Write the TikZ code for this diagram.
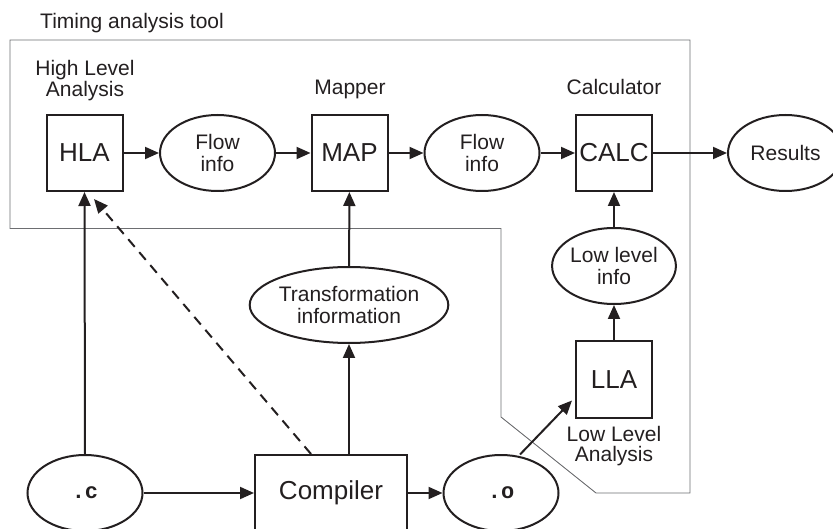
\documentclass[tikz,border=0pt]{standalone}
\usepackage{fontspec}
\setmainfont{Liberation Sans}
\setmonofont{Liberation Mono}
\usetikzlibrary{arrows.meta,shapes.geometric,calc}
\definecolor{ink}{HTML}{231F20}
\definecolor{frame}{HTML}{6D6E71}
\tikzset{
  every node/.style={inner sep=0pt, text=ink},
  unit/.style={draw=ink, line width=2pt, minimum width=76pt, minimum height=76pt,
    font=\fontsize{26}{28}\selectfont},
  data/.style={draw=ink, line width=2pt, ellipse, minimum width=115pt, minimum height=76pt,
    align=center, font=\fontsize{21}{22}\selectfont},
  file/.style={data, font=\fontsize{22}{22}\ttfamily\bfseries},
  caption/.style={align=center, font=\fontsize{21}{20.5}\selectfont},
  flow/.style={draw=ink, line width=2pt, -{Triangle[length=14pt,width=12pt]}},
  hint/.style={flow, dash pattern=on 10pt off 7pt},
  toolframe/.style={draw=frame, line width=0.9pt},
}
\begin{document}
\begin{tikzpicture}[x=1pt,y=-1pt]
\useasboundingbox (0,0) rectangle (833,529);
\clip (0,0) rectangle (833,529);

% outline of the timing analysis tool
\draw[toolframe] (10,40) -- (690,40) -- (690,493) -- (596,493) -- (501,417)
  -- (501,228.5) -- (10,228.5) -- cycle;
\node[caption, anchor=base west] at (40,29) {Timing analysis tool};

% analysis chain
\node[unit] (hla)  at (84.5,153) {HLA};
\node[data] (fi1)  at (217.5,153) {Flow\\info};
\node[unit] (map)  at (349.5,153) {MAP};
\node[data] (fi2)  at (482,153) {Flow\\info};
\node[unit] (calc) at (614,153) {CALC};
\node[data] (res)  at (785.5,153) {Results};

\node[caption, anchor=south] at (85,101) {High Level\\Analysis};
\node[caption, anchor=base] at (350,95) {Mapper};
\node[caption, anchor=base] at (614,95) {Calculator};

% low level path
\node[data] (lli) at (614,266) {Low level\\info};
\node[unit] (lla) at (614,379.5) {LLA};
\node[caption, anchor=north] at (614,426) {Low Level\\Analysis};

% compilation
\node[data, minimum width=188pt] (tri) at (349,305) {Transformation\\information};
\node[file] (src)  at (85,493) {.c};
\node[unit, minimum width=152pt] (comp) at (331,493) {Compiler};
\node[file] (obj)  at (501,493) {.o};

% connectors
\draw[flow] (hla) -- (fi1);
\draw[flow] (fi1) -- (map);
\draw[flow] (map) -- (fi2);
\draw[flow] (fi2) -- (calc);
\draw[flow] (calc) -- (res);
\draw[flow] (lli) -- (calc);
\draw[flow] (lla) -- (lli);
\draw[flow] (src) -- (comp);
\draw[flow] (comp) -- (obj);
\draw[flow] (src.north) -- (hla.south);
\draw[flow] (comp.north -| tri) -- (tri);
\draw[flow] (tri) -- (map);

\coordinate (objout) at ($(obj.north)+(19,0.5)$);
\coordinate (llain)  at ($(lla.south west)+(-3,-18)$);
\draw[flow] (objout) -- (llain);

\coordinate (hintstart) at ($(comp.north west)+(57,0)$);
\coordinate (hintend)   at ($(hla.south)+(9.5,7)$);
\draw[hint] (hintstart) -- (hintend);
\end{tikzpicture}
\end{document}
